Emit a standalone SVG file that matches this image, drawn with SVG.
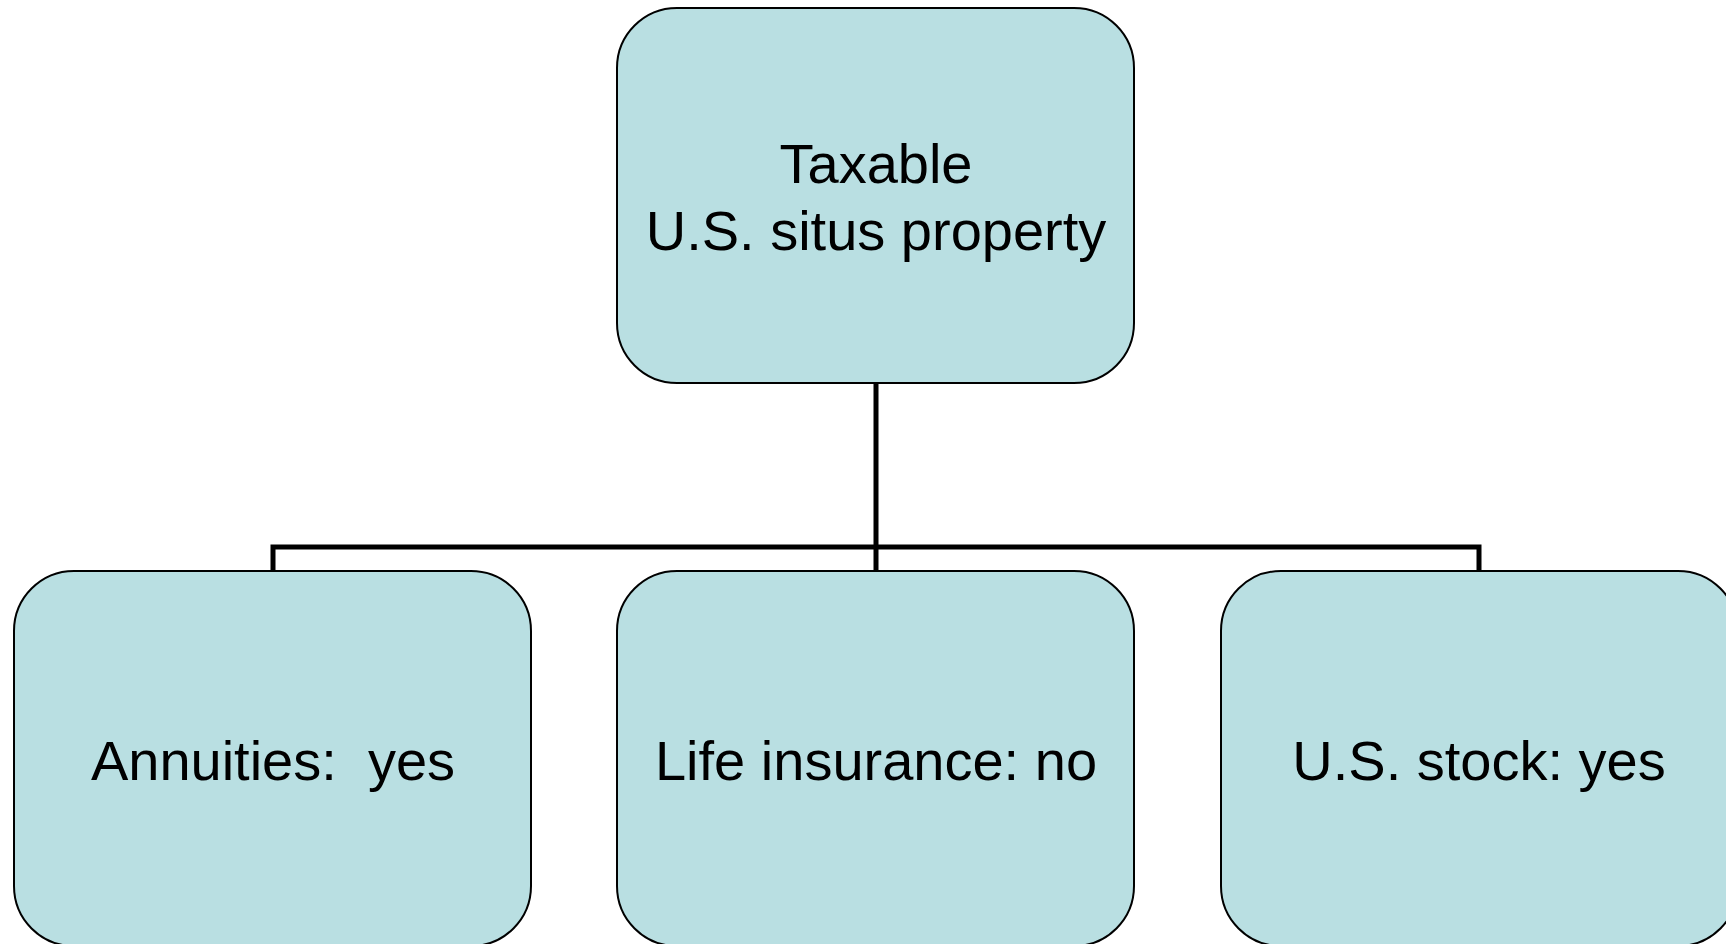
<svg xmlns="http://www.w3.org/2000/svg" width="1726" height="944" viewBox="0 0 1726 944">
<style>
.box{fill:#b9dfe2;stroke:#000;stroke-width:2}
.lbl{font-family:"Liberation Sans",Arial,sans-serif;font-size:56px;fill:#000;text-anchor:middle;white-space:pre}
.conn{fill:none;stroke:#000;stroke-width:5}
</style>
<rect width="1726" height="944" fill="#fff"/>
<g id="connectors">
<path class="conn" d="M876 384V571M273 571V547H1479V571"/>
</g>
<g id="node-top">
<rect class="box" x="617" y="8" width="517" height="375" rx="60" ry="60"/>
<text class="lbl" x="876" y="183">Taxable</text>
<text class="lbl" x="876" y="250">U.S. situs property</text>
</g>
<g id="node-annuities">
<rect class="box" x="14" y="571" width="517" height="375" rx="60" ry="60"/>
<text class="lbl" x="273" y="780" xml:space="preserve">Annuities:  yes</text>
</g>
<g id="node-life">
<rect class="box" x="617" y="571" width="517" height="375" rx="60" ry="60"/>
<text class="lbl" x="876" y="780">Life insurance: no</text>
</g>
<g id="node-stock">
<rect class="box" x="1221" y="571" width="517" height="375" rx="60" ry="60"/>
<text class="lbl" x="1479" y="780">U.S. stock: yes</text>
</g>
</svg>
